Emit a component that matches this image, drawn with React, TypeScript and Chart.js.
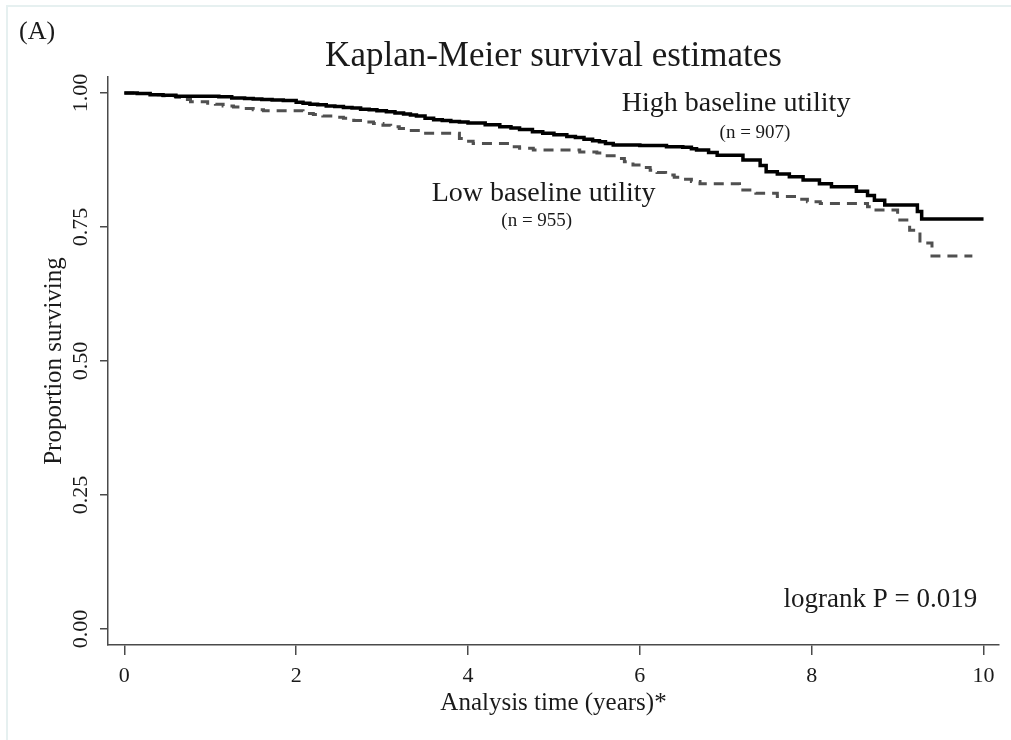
import { useEffect, useRef } from 'react';
import { Chart, registerables } from 'chart.js';

Chart.register(...registerables);

const SERIF = '"Liberation Serif", "Times New Roman", serif';

// Kaplan-Meier step points (time in years, proportion surviving)
const highTimes = [0, 0.15, 0.3, 0.45, 0.6, 0.85, 1.1, 1.25, 1.4, 1.5, 1.6, 1.72, 1.85, 2.0, 2.08, 2.16, 2.25, 2.35, 2.45, 2.55, 2.65, 2.75, 2.85, 2.94, 3.05, 3.15, 3.25, 3.33, 3.4, 3.5, 3.6, 3.7, 3.8, 3.9, 4.0, 4.2, 4.37, 4.5, 4.6, 4.75, 4.87, 5.0, 5.15, 5.25, 5.35, 5.45, 5.53, 5.6, 5.69, 6.0, 6.31, 6.5, 6.6, 6.66, 6.8, 6.9, 7.2, 7.4, 7.47, 7.6, 7.74, 7.9, 8.09, 8.23, 8.52, 8.65, 8.73, 8.85, 9.23, 9.28, 10.0];
const highSurv = [1.0, 0.999, 0.997, 0.996, 0.994, 0.994, 0.993, 0.991, 0.99, 0.989, 0.988, 0.987, 0.986, 0.983, 0.981, 0.979, 0.978, 0.976, 0.975, 0.973, 0.972, 0.97, 0.969, 0.967, 0.965, 0.963, 0.961, 0.959, 0.957, 0.953, 0.95, 0.949, 0.947, 0.946, 0.944, 0.941, 0.937, 0.935, 0.932, 0.928, 0.925, 0.922, 0.919, 0.917, 0.914, 0.911, 0.909, 0.906, 0.903, 0.902, 0.9, 0.899, 0.896, 0.894, 0.889, 0.884, 0.875, 0.865, 0.853, 0.849, 0.844, 0.838, 0.831, 0.825, 0.817, 0.809, 0.8, 0.791, 0.779, 0.765, 0.765];

const lowTimes = [0, 0.15, 0.3, 0.45, 0.6, 0.7, 0.77, 0.97, 1.06, 1.15, 1.27, 1.39, 1.5, 1.62, 2.08, 2.2, 2.31, 2.43, 2.55, 2.67, 2.78, 2.9, 3.01, 3.1, 3.2, 3.32, 3.44, 3.9, 3.98, 4.06, 4.5, 4.6, 4.76, 5.3, 5.5, 5.62, 5.73, 5.82, 5.92, 6.02, 6.12, 6.2, 6.3, 6.4, 6.5, 6.6, 6.7, 7.16, 7.35, 7.6, 7.8, 7.95, 8.1, 8.65, 8.7, 9.0, 9.14, 9.26, 9.4, 9.87];
const lowSurv = [1.0, 0.999, 0.997, 0.995, 0.992, 0.988, 0.984, 0.981, 0.979, 0.976, 0.974, 0.971, 0.969, 0.967, 0.962, 0.96, 0.957, 0.955, 0.953, 0.949, 0.946, 0.943, 0.94, 0.937, 0.934, 0.93, 0.925, 0.915, 0.91, 0.906, 0.9, 0.897, 0.894, 0.89, 0.888, 0.883, 0.878, 0.872, 0.866, 0.861, 0.856, 0.852, 0.847, 0.843, 0.839, 0.835, 0.831, 0.819, 0.813, 0.807, 0.802, 0.797, 0.794, 0.788, 0.782, 0.763, 0.744, 0.72, 0.696, 0.696];

const xTickValues = [0, 2, 4, 6, 8, 10];
const yTickValues = [0, 0.25, 0.5, 0.75, 1];
const yTickLabels = ['0.00', '0.25', '0.50', '0.75', '1.00'];

const panelLabel = '(A)';
const chartTitle = 'Kaplan-Meier survival estimates';
const xAxisTitle = 'Analysis time (years)*';
const yAxisTitle = 'Proportion surviving';
const groupNames = ['High baseline utility', 'Low baseline utility'];
const groupCounts = ['(n = 907)', '(n = 955)'];
const testLabel = 'logrank P = 0.019';

const toPoints = (t: number[], s: number[]) => t.map((x, i) => ({ x, y: s[i] }));

const AXIS_COLOR = '#4a4a4a';
const TEXT_COLOR = '#1a1a1a';

const textPlugin = {
  id: 'kmText',
  beforeDraw(chart: any) {
    const { ctx, width, height } = chart;
    ctx.save();
    ctx.fillStyle = '#ffffff';
    ctx.fillRect(0, 0, width, height);
    // faint frame along the top and left edges
    ctx.strokeStyle = '#e6f0f0';
    ctx.lineWidth = 2;
    ctx.beginPath();
    ctx.moveTo(7, height);
    ctx.lineTo(7, 6);
    ctx.lineTo(width, 6);
    ctx.stroke();
    ctx.restore();
  },
  afterDraw(chart: any) {
    const { ctx, chartArea } = chart;
    const xs = chart.scales.x;
    const ys = chart.scales.y;
    const cx = (chartArea.left + chartArea.right) / 2;
    const cy = (chartArea.top + chartArea.bottom) / 2;

    const put = (text: string, x: number, y: number, size: number, align: CanvasTextAlign = 'center', rot = 0) => {
      ctx.save();
      ctx.font = `${size}px ${SERIF}`;
      ctx.fillStyle = TEXT_COLOR;
      ctx.textAlign = align;
      ctx.textBaseline = 'middle';
      ctx.translate(x, y);
      if (rot) ctx.rotate(rot);
      ctx.fillText(text, 0, 0);
      ctx.restore();
    };

    put(panelLabel, 19, 32, 26, 'left');
    put(chartTitle, cx, 57, 35);

    // rotated y tick labels
    yTickValues.forEach((v, i) => {
      put(yTickLabels[i], 81, ys.getPixelForValue(v), 22, 'center', -Math.PI / 2);
    });
    put(yAxisTitle, 54, cy, 25, 'center', -Math.PI / 2);
    put(xAxisTitle, cx, 703, 25);

    // group annotations placed in data coordinates
    put(groupNames[0], xs.getPixelForValue(7.12), ys.getPixelForValue(0.98), 28);
    put(groupCounts[0], xs.getPixelForValue(7.34), ys.getPixelForValue(0.925), 19);
    put(groupNames[1], xs.getPixelForValue(4.88), ys.getPixelForValue(0.813), 28);
    put(groupCounts[1], xs.getPixelForValue(4.8), ys.getPixelForValue(0.761), 19);
    put(testLabel, xs.getPixelForValue(8.8), ys.getPixelForValue(0.054), 27);
  },
};

export default function App() {
  const ref = useRef<HTMLCanvasElement | null>(null);

  useEffect(() => {
    if (!ref.current) return;
    const chart = new Chart(ref.current, {
      type: 'line',
      data: {
        datasets: [
          {
            label: groupNames[0],
            data: toPoints(highTimes, highSurv),
            borderColor: '#000000',
            borderWidth: 3.5,
            stepped: true,
            pointRadius: 0,
            fill: false,
          },
          {
            label: groupNames[1],
            data: toPoints(lowTimes, lowSurv),
            borderColor: '#505050',
            borderWidth: 3,
            borderDash: [10, 7],
            stepped: true,
            pointRadius: 0,
            fill: false,
          },
        ],
      },
      options: {
        animation: false,
        responsive: false,
        devicePixelRatio: 1,
        layout: { padding: { top: 77, right: 12, left: 0, bottom: 0 } },
        plugins: {
          legend: { display: false },
          title: { display: false },
          tooltip: { enabled: false },
        },
        scales: {
          x: {
            type: 'linear',
            min: -0.19,
            max: 10.18,
            afterBuildTicks: (s: any) => {
              s.ticks = xTickValues.map((value) => ({ value }));
            },
            afterFit: (s: any) => {
              s.height = 95;
            },
            grid: { drawOnChartArea: false, tickLength: 10, color: AXIS_COLOR, lineWidth: 1.5 },
            border: { display: true, color: AXIS_COLOR, width: 1.5 },
            ticks: {
              color: TEXT_COLOR,
              padding: 8,
              font: { family: SERIF, size: 22 },
              maxRotation: 0,
              autoSkip: false,
            },
          },
          y: {
            type: 'linear',
            min: -0.03,
            max: 1.03,
            afterBuildTicks: (s: any) => {
              s.ticks = yTickValues.map((value) => ({ value }));
            },
            afterFit: (s: any) => {
              s.width = 108;
            },
            grid: { drawOnChartArea: false, tickLength: 8, color: AXIS_COLOR, lineWidth: 1.5 },
            border: { display: true, color: AXIS_COLOR, width: 1.5 },
            ticks: { display: false },
          },
        },
      },
      plugins: [textPlugin],
    });
    return () => chart.destroy();
  }, []);

  return (
    <div style={{ position: 'absolute', left: 0, top: 0, width: 1011, height: 740 }}>
      <canvas ref={ref} width={1011} height={740} style={{ display: 'block' }} />
    </div>
  );
}
